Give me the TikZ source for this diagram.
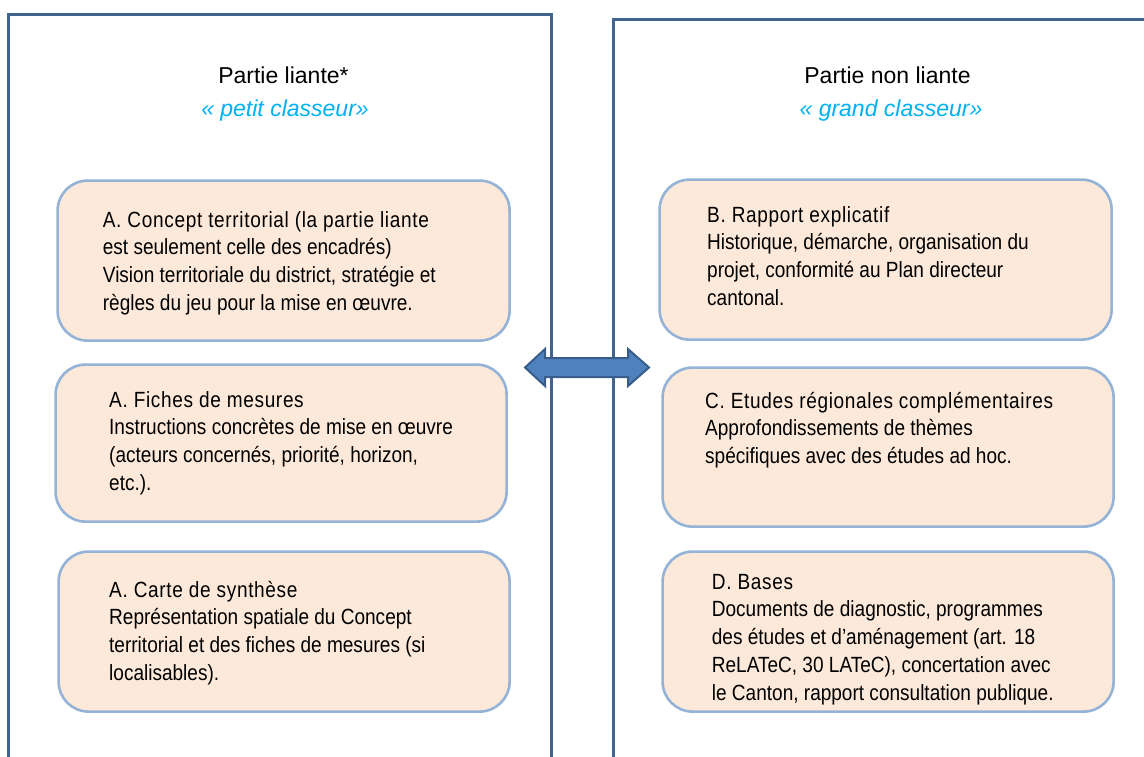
\documentclass[tikz,border=0pt]{standalone}
\usepackage{fontspec}
\setmainfont{Liberation Sans}
\newfontfamily\bodyfont[FakeStretch=0.865]{Liberation Sans}
\newfontfamily\headfont[FakeStretch=0.865,LetterSpace=3]{Liberation Sans}
\definecolor{panelc}{HTML}{41648F}
\definecolor{boxline}{HTML}{95B3D7}
\definecolor{boxfill}{HTML}{FDE9D9}
\definecolor{arrfill}{HTML}{4F81BD}
\definecolor{arrline}{HTML}{385D8A}
\definecolor{cyantxt}{HTML}{00B0F0}
\tikzset{
  panel/.style={draw=panelc, line width=3pt},
  box/.style={draw=boxline, fill=boxfill, line width=2.6pt, rounded corners=30pt,
    anchor=north west, inner sep=0pt},
  txt/.style={anchor=north west, inner sep=0pt, align=left,
    font=\bodyfont\fontsize{22}{27.7}\selectfont},
  title/.style={anchor=base, inner sep=0pt, font=\fontsize{23}{27}\selectfont},
  subtitle/.style={title, text=cyantxt, font=\fontsize{23}{27}\selectfont\itshape},
  blockarrow/.style={fill=arrfill, draw=arrline, line width=2pt, line join=miter}
}
\newcommand{\fl}[1]{{\headfont\rule{0pt}{17pt}#1}}
\begin{document}
\begin{tikzpicture}[x=1pt, y=-1pt]
\useasboundingbox (0,0) rectangle (1144,756);
\clip (0,0) rectangle (1144,756);
\fill[white] (0,0) rectangle (1144,756);
% panels
\draw[panel] (8,770) -- (8,14) -- (551,14) -- (551,770);
\draw[panel] (613,770) -- (613,19) -- (1160,19);
% titles
\node[title] (t1) at (283.5,83) {Partie liante*};
\node[subtitle] (s1) at (285,116) {« petit classeur»};
\node[title] (t2) at (887.5,83) {Partie non liante};
\node[subtitle] (s2) at (891,116) {« grand classeur»};
% boxes
\node[box, minimum width=452pt, minimum height=160pt] (a1) at (56.3,179.3) {};
\node[box, minimum width=451pt, minimum height=157pt] (a2) at (54.3,363.3) {};
\node[box, minimum width=451pt, minimum height=160pt] (a3) at (57.3,550.3) {};
\node[box, minimum width=452pt, minimum height=160pt] (b) at (658.3,178.3) {};
\node[box, minimum width=451pt, minimum height=159pt] (c) at (661.3,366.3) {};
\node[box, minimum width=451pt, minimum height=160pt] (d) at (661.3,550.3) {};
% texts
\node[txt] (ta1) at (102.7,210) {\fl{A. Concept territorial (la partie liante}\\est seulement celle des encadrés)\\Vision territoriale du district, stratégie et\\règles du jeu pour la mise en œuvre.};
\node[txt] (ta2) at (109,390) {\fl{A. Fiches de mesures}\\Instructions concrètes de mise en œuvre\\(acteurs concernés, priorité, horizon,\\etc.).};
\node[txt] (ta3) at (109,580) {\fl{A. Carte de synthèse}\\Représentation spatiale du Concept\\territorial et des fiches de mesures (si\\localisables).};
\node[txt] (tb) at (707,205) {\fl{B. Rapport explicatif}\\Historique, démarche, organisation du\\projet, conformité au Plan directeur\\cantonal.};
\node[txt] (tc) at (705,391) {\fl{C. Etudes régionales complémentaires}\\Approfondissements de thèmes\\spécifiques avec des études ad hoc.};
\node[txt] (td) at (711.7,572) {\fl{D. Bases}\\Documents de diagnostic, programmes\\des études et d’aménagement (art. 18\\ReLATeC, 30 LATeC), concertation avec\\le Canton, rapport consultation publique.};
% double block arrow
\draw[blockarrow] (525,367.5) -- (545,349) -- (545,358) -- (628,358) -- (628,349)
  -- (649,367.5) -- (628,386) -- (628,377) -- (545,377) -- (545,386) -- cycle;
\end{tikzpicture}
\end{document}
